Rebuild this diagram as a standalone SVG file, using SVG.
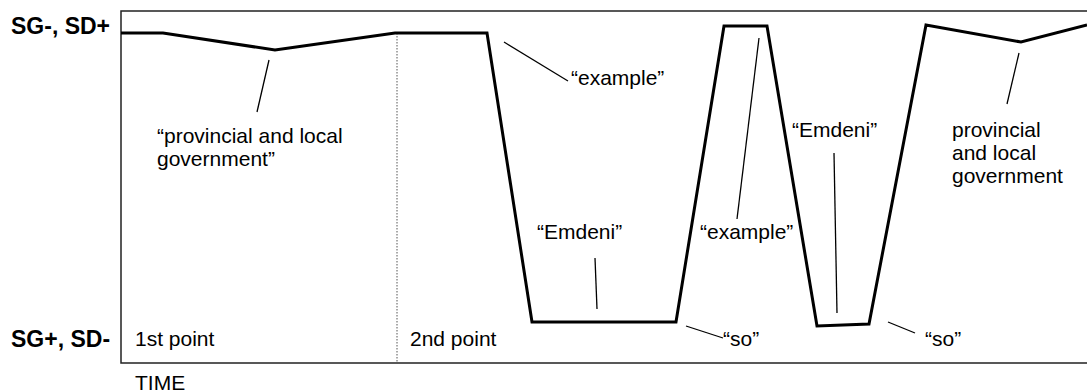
<svg xmlns="http://www.w3.org/2000/svg" width="1087" height="392" viewBox="0 0 1087 392">
  <style>
    .frame { fill: none; stroke: #222; stroke-width: 1.5; }
    .grid { fill: none; stroke: #555; stroke-width: 1; stroke-dasharray: 1.5 1.5; }
    .trace { fill: none; stroke: #000; stroke-width: 3; stroke-linejoin: miter; }
    .pointer { fill: none; stroke: #000; stroke-width: 1.3; }
    .lbl { font-family: "Liberation Sans", Arial, sans-serif; font-size: 21px; fill: #000; }
    .axis { font-family: "Liberation Sans", Arial, sans-serif; font-size: 23px; font-weight: bold; fill: #000; }
  </style>

  <!-- plot frame (open on the right) -->
  <g id="frame">
    <path class="frame" d="M1087,11 H121 V363 H1087"/>
    <line class="grid" x1="397" y1="33" x2="397" y2="363"/>
  </g>

  <!-- axis labels -->
  <g id="axis-labels">
    <text class="axis" x="11" y="34">SG-, SD+</text>
    <text class="axis" x="11" y="347">SG+, SD-</text>
    <text class="lbl" x="135" y="390">TIME</text>
    <text class="lbl" x="135" y="346">1st point</text>
    <text class="lbl" x="410" y="346">2nd point</text>
  </g>

  <!-- the trace over time -->
  <g id="connectors">
    <path class="trace" d="M121,33 L163,33 L275,50 L395,33 L487,33 L532,322 L676,322 L724,26 L767,26 L817,326 L869,324 L926,25 L1021,42 L1087,25"/>
    <line class="pointer" x1="269" y1="60" x2="257" y2="112"/>
    <line class="pointer" x1="504" y1="42" x2="568" y2="81"/>
    <line class="pointer" x1="595" y1="258" x2="597" y2="309"/>
    <line class="pointer" x1="686" y1="326" x2="723" y2="338"/>
    <line class="pointer" x1="759" y1="38" x2="737" y2="219"/>
    <line class="pointer" x1="834" y1="153" x2="837" y2="313"/>
    <line class="pointer" x1="888" y1="322" x2="915" y2="333"/>
    <line class="pointer" x1="1019" y1="53" x2="1007" y2="104"/>
  </g>

  <!-- annotations -->
  <g id="note-provincial-1">
    <text class="lbl" x="157" y="143">“provincial and local</text>
    <text class="lbl" x="157" y="166">government”</text>
  </g>
  <g id="note-example-1">
    <text class="lbl" x="571" y="85">“example”</text>
  </g>
  <g id="note-emdeni-1">
    <text class="lbl" x="537" y="239">“Emdeni”</text>
  </g>
  <g id="note-so-1">
    <text class="lbl" x="723" y="346">“so”</text>
  </g>
  <g id="note-example-2">
    <text class="lbl" x="700" y="239">“example”</text>
  </g>
  <g id="note-emdeni-2">
    <text class="lbl" x="792" y="137">“Emdeni”</text>
  </g>
  <g id="note-so-2">
    <text class="lbl" x="925" y="346">“so”</text>
  </g>
  <g id="note-provincial-2">
    <text class="lbl" x="952" y="137">provincial</text>
    <text class="lbl" x="952" y="160">and local</text>
    <text class="lbl" x="952" y="183">government</text>
  </g>
</svg>
